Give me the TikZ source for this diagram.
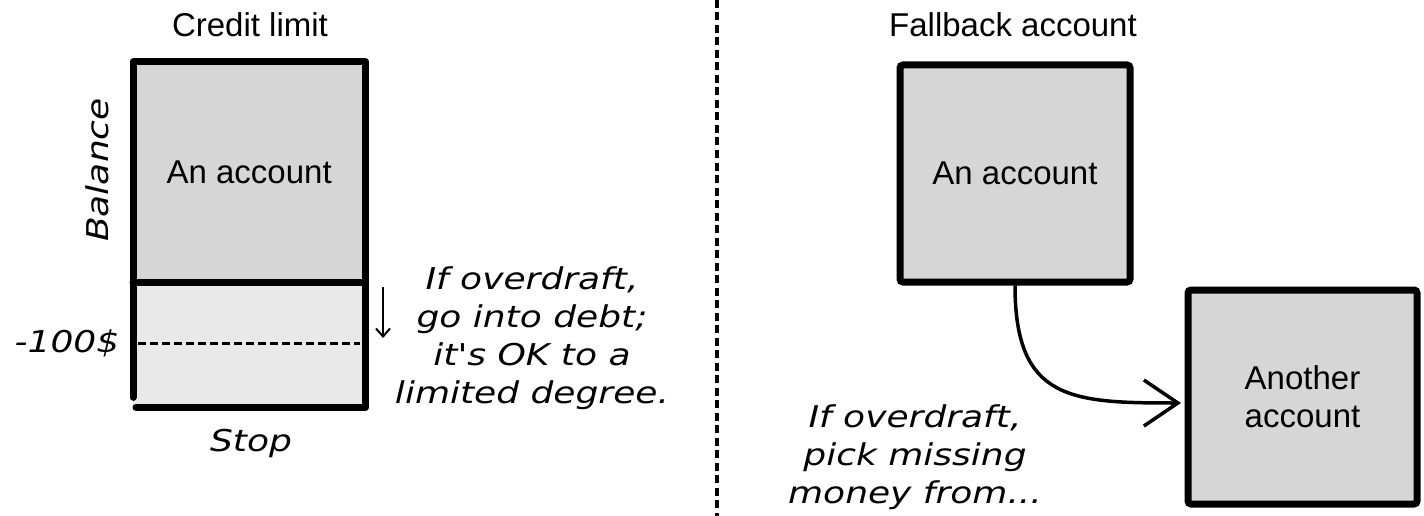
\documentclass[tikz,border=0pt]{standalone}
\usepackage{fontspec}
\setmainfont{Liberation Sans}
\newfontfamily\handfont{DejaVu Sans}
\usetikzlibrary{arrows.meta}
\definecolor{boxgray}{HTML}{D6D6D6}
\definecolor{lowgray}{HTML}{E9E9E9}
\newcommand\hw[1]{\scalebox{1.2}[1]{#1}}
\begin{document}
\begin{tikzpicture}[x=1pt,y=-1pt,
  title/.style={font=\fontsize{33}{38}\selectfont, inner sep=0},
  hand/.style={font=\handfont\itshape\fontsize{30}{38}\selectfont, align=center, inner sep=0},
  acc/.style={draw, line width=7pt, fill=boxgray, rounded corners=3pt, font=\fontsize{33}{38}\selectfont, align=center},
  heavy/.style={line width=7pt, line cap=round, line join=round},
]
\useasboundingbox (0,0) rectangle (1424,516);

% ---------- left: credit limit ----------
\node[title] (t1) at (250,25) {Credit limit};
\node[fill=boxgray, minimum width=232pt, minimum height=220pt, inner sep=0, anchor=north west,
      font=\fontsize{33}{38}\selectfont] (upper) at (133,62) {An account};
\node[fill=lowgray, minimum width=232pt, minimum height=125pt, inner sep=0, anchor=north west] (lower) at (133,282) {};
\draw[heavy] ([yshift=10pt]lower.south west) -- (upper.north west) -- (upper.north east)
  -- (lower.south east) -- ([xshift=3pt]lower.south west);
\draw[heavy] (upper.south west) -- (upper.south east);
\coordinate (dl) at (138,343);
\coordinate (dr) at (360,343);
\draw[line width=3pt, dash pattern=on 8pt off 4pt] (dl) -- (dr);

\node[hand, rotate=90] (bal) at (97,170) {\hw{Balance}};
\node[hand] (m100) at (67,343) {\hw{-100\$}};
\node[hand] (stop) at (251,443) {\hw{Stop}};

\coordinate (sa) at (383,287);
\coordinate (sb) at (383,338);
\draw[line width=2pt, -{Straight Barb[length=8pt,width=14pt]}] (sa) -- (sb);
\node[hand] (note1) at (532,338) {\hw{If overdraft,}\\\hw{go into debt;}\\\hw{it's OK to a}\\\hw{limited degree.}};

% ---------- divider ----------
\coordinate (dt) at (717,0);
\coordinate (db) at (717,516);
\draw[line width=4.5pt, dash pattern=on 8pt off 4.5pt] (dt) -- (db);

% ---------- right: fallback account ----------
\node[title] (t2) at (1013,25) {Fallback account};
\node[acc, minimum width=230pt, minimum height=217pt] (acc2) at (1015,173.5) {An account};
\node[acc, minimum width=229pt, minimum height=214pt] (acc3) at (1302.5,397) {Another\\account};
\draw[line width=3.5pt, -{Straight Barb[length=34pt,width=46pt]}]
  (acc2.south) .. controls +(0,115) and +(-110,0) .. ([xshift=-3.5pt,yshift=-6pt]acc3.west);
\node[hand] (note2) at (915,457) {\hw{If overdraft,}\\\hw{pick missing}\\\hw{money from...}};
\end{tikzpicture}
\end{document}
